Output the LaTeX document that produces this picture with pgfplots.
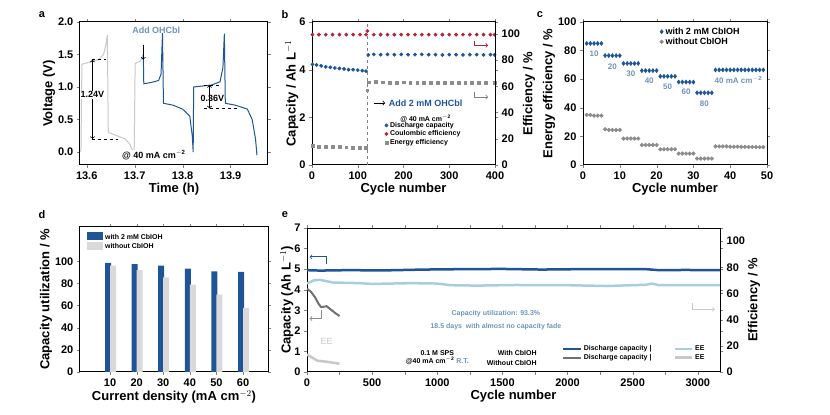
\documentclass[border=0pt]{standalone}
\usepackage{pgfplots}
\pgfplotsset{compat=1.18}
\usepackage{fontspec}
\setmainfont{Liberation Sans}
\definecolor{cb}{HTML}{1F5597}
\definecolor{cr}{HTML}{B3263A}
\definecolor{cg}{HTML}{8C8C8C}
\definecolor{clb}{HTML}{A8CCE0}
\definecolor{clg}{HTML}{C8C8C8}
\definecolor{ct}{HTML}{6F93B8}
\pgfplotsset{
 base/.style={scale only axis, anchor=south west,
  tick label style={font=\fontsize{11}{12}\selectfont\bfseries},
  label style={font=\fontsize{13}{14}\selectfont\bfseries},
  /pgf/number format/assume math mode=true, line width=0.6pt,
  tick align=outside, major tick length=3pt, axis line style={line width=1pt}},
}
\begin{document}
\begin{tikzpicture}
\path[use as bounding box] (0pt,0pt) rectangle (830pt,415pt);
\node[font=\bfseries\fontsize{11}{12}\selectfont] at (42pt,400pt) {a};
\node[font=\bfseries\fontsize{11}{12}\selectfont] at (285pt,400pt) {b};
\node[font=\bfseries\fontsize{11}{12}\selectfont] at (540pt,400pt) {c};
\node[font=\bfseries\fontsize{11}{12}\selectfont] at (42pt,200pt) {d};
\node[font=\bfseries\fontsize{11}{12}\selectfont] at (285pt,200pt) {e};
% ---------- a
\begin{axis}[base, at={(80pt,250pt)}, width=188pt, height=143pt,
 xmin=13.586, xmax=13.978, ymin=-0.2, ymax=2.0,
 xtick={13.6,13.7,13.8,13.9}, xticklabels={13.6,13.7,13.8,13.9},
 ytick={0,0.5,1,1.5,2}, yticklabels={0.0,0.5,1.0,1.5,2.0},
 xlabel={Time (h)}, ylabel={Voltage (V)}, xlabel style={yshift=3pt}, ylabel style={yshift=-4pt}]
\addplot[clg, line width=1pt] coordinates {(13.588,0.0)(13.590,1.35)(13.600,1.37)(13.625,1.42)(13.635,1.5)(13.640,1.65)(13.643,1.8)(13.645,0.3)(13.660,0.26)(13.680,0.2)(13.690,0.12)(13.697,0.0)};
\addplot[clg, line width=1pt] coordinates {(13.699,0.0)(13.701,1.36)(13.712,1.40)(13.718,1.5)};
\addplot[cb, line width=1pt] coordinates {(13.718,1.5)(13.719,1.05)(13.735,1.07)(13.750,1.1)(13.755,1.2)(13.758,1.83)(13.760,0.75)(13.780,0.72)(13.800,0.66)(13.815,0.55)(13.820,0.25)(13.822,0.0)(13.823,1.0)(13.860,1.03)(13.878,1.08)(13.884,1.3)(13.887,1.82)(13.889,0.75)(13.910,0.72)(13.935,0.66)(13.945,0.5)(13.952,0.2)(13.955,-0.05)};
\draw[dashed, thick] (13.610,1.42) -- (13.640,1.42);
\draw[dashed, thick] (13.610,0.20) -- (13.665,0.20);
\draw[<->, thick] (13.612,0.2) -- (13.612,1.42);
\node[font=\bfseries\small, fill=white, inner sep=1pt] at (13.612,0.88) {1.24V};
\draw[dashed, thick] (13.845,1.03) -- (13.88,1.03);
\draw[dashed, thick] (13.845,0.67) -- (13.92,0.67);
\draw[<->, thick] (13.856,0.67) -- (13.856,1.03);
\node[font=\bfseries\small] at (13.862,0.82) {0.36V};
\node[font=\bfseries\small, text=ct] at (13.745,1.88) {Add OHCbl};
\draw[->, thick] (13.718,1.65) -- (13.718,1.42);
\node[font=\bfseries\small, fill=white, inner sep=1pt] at (13.74,-0.05) {@ 40 mA cm$^{\mathbf{-2}}$};
\end{axis}
% ---------- b
\begin{axis}[base, at={(312pt,250pt)}, width=183pt, height=143pt,
 xmin=0, xmax=400, ymin=0, ymax=6, xtick={0,100,200,300,400}, ytick={0,2,4,6},
 xlabel={Cycle number}, ylabel={Capacity / Ah L$^{-1}$}, xlabel style={yshift=3pt}, ylabel style={yshift=-6pt},
 legend style={draw=none, fill=none, at={(0.38,0.33)}, anchor=north west, font=\bfseries\scriptsize, row sep=-2pt},
 legend cell align=left]
\addplot[cb, only marks, mark=*, mark size=1.6pt] coordinates {(1,4.22)(10,4.2)(20,4.16)(30,4.12)(40,4.1)(50,4.07)(60,4.05)(70,4.03)(80,4.0)(90,4.0)(100,3.98)(110,3.96)(118,3.94)(123,4.62)(135,4.64)(150,4.63)(165,4.64)(180,4.63)(195,4.64)(210,4.63)(225,4.63)(240,4.64)(255,4.63)(270,4.63)(285,4.62)(300,4.63)(315,4.63)(330,4.62)(345,4.63)(360,4.63)(375,4.62)(390,4.63)(399,4.62)};
\addlegendentry{Discharge capacity}
\addplot[cr, only marks, mark=*, mark size=1.6pt] coordinates {(1,5.47)(15,5.47)(30,5.47)(45,5.47)(60,5.47)(75,5.47)(90,5.47)(105,5.47)(118,5.47)(121,5.62)(135,5.47)(150,5.47)(165,5.47)(180,5.47)(195,5.47)(210,5.47)(225,5.47)(240,5.47)(255,5.47)(270,5.47)(285,5.47)(300,5.47)(315,5.47)(330,5.47)(345,5.47)(360,5.47)(375,5.47)(390,5.47)(399,5.47)};
\addlegendentry{Coulombic efficiency}
\addplot[cg, only marks, mark=square*, mark size=1.4pt] coordinates {(1,0.8)(15,0.78)(30,0.77)(45,0.76)(60,0.75)(75,0.74)(90,0.73)(105,0.72)(118,0.71)(121,3.13)(125,3.47)(140,3.48)(155,3.47)(170,3.46)(185,3.46)(200,3.47)(215,3.45)(230,3.45)(245,3.46)(260,3.45)(275,3.44)(290,3.45)(305,3.44)(320,3.44)(335,3.45)(350,3.44)(365,3.44)(380,3.44)(399,3.44)};
\addlegendentry{Energy efficiency}
\draw[dashed, thick, gray] (120,0) -- (120,6);
\draw[->, thick] (135,2.6) -- (160,2.6);
\node[font=\bfseries\small, text=cb, anchor=west] at (160,2.6) {Add 2 mM OHCbl};
\node[font=\bfseries\scriptsize, anchor=west] at (185,1.95) {@ 40 mA cm$^{\mathbf{-2}}$};
\draw[cr, thick, ->] (355,5.22) -- (355,5.02) -- (385,5.02);
\draw[gray, thick, ->] (355,3.05) -- (355,2.85) -- (385,2.85);
\end{axis}
\begin{axis}[base, at={(312pt,250pt)}, width=183pt, height=143pt, axis x line=none, axis y line*=right,
 xmin=0, xmax=400, ymin=0, ymax=109, ytick={0,20,40,60,80,100}, ylabel={Efficiency / \%}, ylabel style={yshift=4pt}]
\end{axis}
% ---------- c
\begin{axis}[base, at={(583pt,250pt)}, width=184pt, height=143pt,
 xmin=0, xmax=50, ymin=0, ymax=100, xtick={0,10,20,30,40,50}, ytick={0,20,40,60,80,100},
 xlabel={Cycle number}, ylabel={Energy efficiency / \%}, xlabel style={yshift=3pt}, ylabel style={yshift=-4pt},
 legend style={draw=none, fill=none, at={(0.4,0.99)}, anchor=north west, font=\bfseries\small, row sep=-2pt},
 legend cell align=left]
\addplot[cb, only marks, mark=diamond*, mark size=2pt] coordinates {(1,85)(2,85)(3,85)(4,85)(5,85)(6,76.5)(7,76.5)(8,76.5)(9,76.5)(10,76.5)(11,71)(12,71)(13,71)(14,71)(15,71)(16,66)(17,66)(18,66)(19,66)(20,66)(21,62)(22,62)(23,62)(24,62)(25,62)(26,58)(27,58)(28,58)(29,58)(30,58)(31,50.5)(32,50.5)(33,50.5)(34,50.5)(35,50.5)(36,66.5)(37,66.5)(38,66.5)(39,66.5)(40,66.5)(41,66.5)(42,66.5)(43,66.5)(44,66.5)(45,66.5)(46,66.5)(47,66.5)(48,66.5)(49,66.5)};
\addlegendentry{with 2 mM CbIOH}
\addplot[cg, only marks, mark=*, mark size=1.8pt] coordinates {(1,35)(2,35)(3,34.5)(4,34.5)(5,34.5)(6,25)(7,24.5)(8,24.5)(9,24.5)(10,24.5)(11,18.5)(12,18.5)(13,18.5)(14,18.5)(15,18.5)(16,14)(17,14)(18,14)(19,14)(20,14)(21,11)(22,11)(23,11)(24,11)(25,11)(26,8)(27,8)(28,8)(29,8)(30,8)(31,4.5)(32,4.5)(33,4.5)(34,4.5)(35,4.5)(36,13)(37,13)(38,13)(39,13)(40,12.8)(41,12.8)(42,12.8)(43,12.7)(44,12.7)(45,12.6)(46,12.6)(47,12.5)(48,12.5)(49,12.5)};
\addlegendentry{without CbIOH}
\node[font=\bfseries\footnotesize, text=ct] at (3,77.5) {10};
\node[font=\bfseries\footnotesize, text=ct] at (8,69) {20};
\node[font=\bfseries\footnotesize, text=ct] at (13,64) {30};
\node[font=\bfseries\footnotesize, text=ct] at (18,59) {40};
\node[font=\bfseries\footnotesize, text=ct] at (23,55) {50};
\node[font=\bfseries\footnotesize, text=ct] at (28,51) {60};
\node[font=\bfseries\footnotesize, text=ct] at (33,43) {80};
\node[font=\bfseries\footnotesize, text=ct, anchor=west] at (34.8,59.5) {40 mA cm$^{\mathbf{-2}}$};
\end{axis}
% ---------- d
\begin{axis}[base, at={(80pt,43pt)}, width=188pt, height=145pt,
 xmin=-1.3, xmax=69.4, ymin=0, ymax=131, xtick={10,20,30,40,50,60}, ytick={0,20,40,60,80,100},
 xlabel={Current density (mA cm$^{-2}$)}, ylabel={Capacity utilization / \%}, xlabel style={yshift=3pt}, ylabel style={yshift=-4pt},
 ybar, bar width=6pt,
 legend style={draw=none, fill=none, at={(0.02,0.98)}, anchor=north west, font=\bfseries\scriptsize, row sep=-1pt},
 legend cell align=left, legend image code/.code={\fill[#1] (0pt,-3pt) rectangle (16pt,5pt);}]
\addplot[fill=cb, draw=none, bar shift=-2pt] coordinates {(10,98.5)(20,97.5)(30,96)(40,93.5)(50,91)(60,90.5)};
\addlegendentry{with 2 mM CbIOH}
\addplot[fill=clg!70, draw=none, bar shift=3pt] coordinates {(10,96)(20,92)(30,85.5)(40,79)(50,70)(60,58)};
\addlegendentry{without CbIOH}
\end{axis}
% ---------- e
\begin{axis}[base, at={(307pt,43pt)}, width=413pt, height=144pt,
 xmin=0, xmax=3170, ymin=0, ymax=7, xtick={0,500,1000,1500,2000,2500,3000}, ytick={0,1,2,3,4,5,6,7},
 xticklabel style={/pgf/number format/set thousands separator={}},
 minor x tick num=1,
 xlabel={Cycle number}, ylabel={Capacity (Ah L$^{-1}$)}, xlabel style={yshift=3pt}, ylabel style={yshift=-6pt},
 legend style={draw=none, fill=none, at={(0.61,0.13)}, anchor=west, font=\bfseries\scriptsize, row sep=-2pt,
   /tikz/every even column/.append style={column sep=20pt}},
 legend columns=2, legend cell align=left]
\addplot[cb, line width=2.5pt] coordinates {(0,4.95)(100,4.93)(300,4.95)(600,4.94)(900,4.98)(1200,5.0)(1500,5.01)(1800,4.98)(2100,5.0)(2400,5.0)(2600,5.0)(2700,4.95)(2900,4.96)(3170,4.95)};
\addlegendentry{Discharge capacity |}
\addplot[clb, line width=2.5pt] coordinates {(0,4.3)(50,4.45)(100,4.48)(200,4.35)(400,4.32)(500,4.28)(800,4.32)(1000,4.3)(1100,4.22)(1300,4.2)(1600,4.23)(2000,4.22)(2300,4.18)(2600,4.24)(2650,4.3)(2700,4.22)(3170,4.22)};
\addlegendentry{EE}
\addplot[cg!80!black, line width=2pt] coordinates {(0,4.05)(30,3.9)(60,3.65)(90,3.3)(110,3.15)(150,3.2)(180,3.05)(220,2.85)(250,2.72)};
\addlegendentry{Discharge capacity |}
\addplot[clg, line width=2.5pt] coordinates {(0,0.85)(40,0.7)(80,0.55)(150,0.5)(200,0.45)(250,0.4)};
\addlegendentry{EE}
\node[font=\bfseries\scriptsize, text=ct] at (1450,2.85) {Capacity utilization: 93.3\%};
\node[font=\bfseries\scriptsize, text=ct] at (1450,2.2) {18.5 days\ \ with almost no capacity fade};
\node[font=\bfseries\scriptsize, align=center] at (1000,0.7) {0.1 M SPS\\@40 mA cm$^{\mathbf{-2}}$ \textcolor{ct}{R.T.}};
\node[font=\bfseries\scriptsize, align=right, anchor=east] at (1790,0.7) {With CbIOH\\[2pt]Without CbIOH};
\node[font=\small, text=clg] at (150,1.5) {EE};
\draw[cb, thick, ->] (150,5.25) -- (150,5.6) -- (20,5.6);
\draw[cg, thick, ->] (110,3.0) -- (110,2.6) -- (20,2.6);
\draw[clg, thick, ->] (2960,3.35) -- (2960,3.05) -- (3130,3.05);
\end{axis}
\begin{axis}[base, at={(307pt,43pt)}, width=413pt, height=144pt, axis x line=none, axis y line*=right,
 xmin=0, xmax=3170, ymin=0, ymax=110, ytick={0,20,40,60,80,100}, ylabel={Efficiency / \%}, ylabel style={yshift=4pt}]
\end{axis}
\end{tikzpicture}
\end{document}
